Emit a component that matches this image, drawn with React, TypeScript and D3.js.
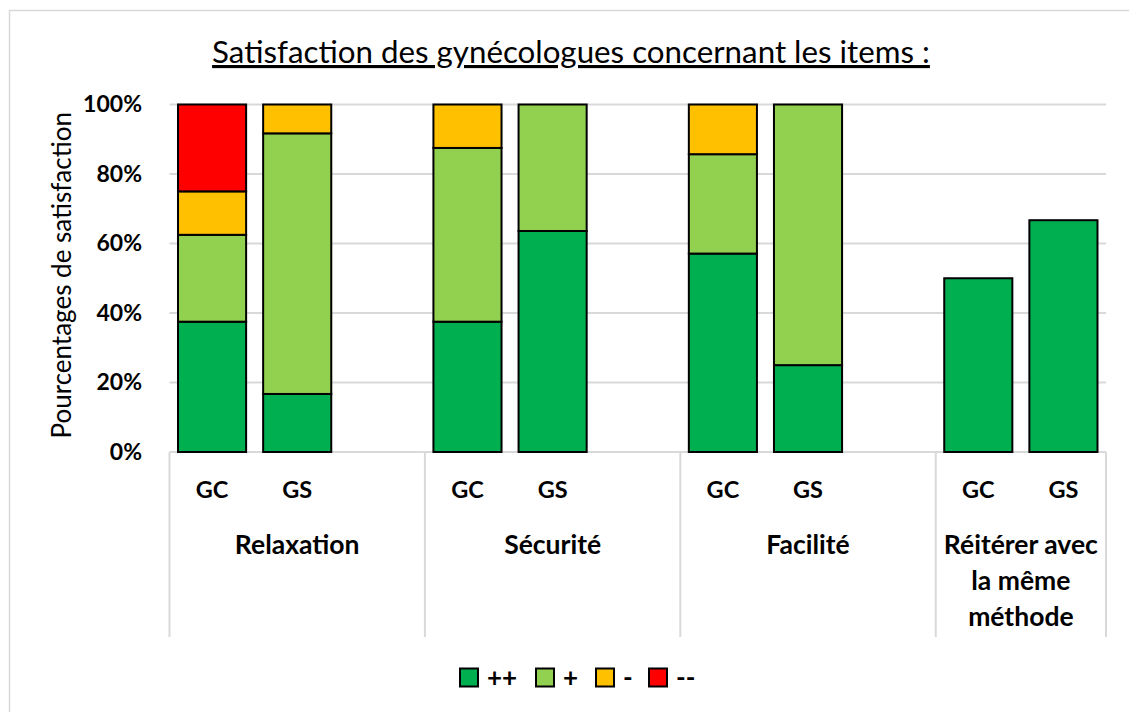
import * as d3 from "d3";

const items = ["Relaxation", "Sécurité", "Facilité", "Réitérer avec la même méthode"];
const itemLines = [["Relaxation"], ["Sécurité"], ["Facilité"], ["Réitérer avec", "la même", "méthode"]];
const groups = ["GC", "GS"];
const levels = ["++", "+", "-", "--"];
const colors = ["#00B050", "#92D050", "#FFC000", "#FF0000"];

// values per bar, order: Relaxation GC, GS, Sécurité GC, GS, Facilité GC, GS, Réitérer GC, GS
const veryGood = [37.5, 16.7, 37.5, 63.6, 57.1, 25, 50, 66.7];
const good = [25, 75, 50, 36.4, 28.6, 75, 0, 0];
const bad = [12.5, 8.3, 12.5, 0, 14.3, 0, 0, 0];
const veryBad = [25, 0, 0, 0, 0, 0, 0, 0];
const yTicks = [0, 20, 40, 60, 80, 100];

const W = 1129;
const H = 712;
const FONT = "Lato, 'Open Sans', sans-serif";

export default function App() {
  const slots: string[] = [];
  items.forEach((it, i) => {
    groups.forEach((g) => slots.push(`${it}|${g}`));
    if (i < items.length - 1) slots.push(`${it}|gap`);
  });

  const x = d3.scaleBand<string>().domain(slots).range([169.5, 1106]).paddingInner(0.2).paddingOuter(0.1);
  const y = d3.scaleLinear().domain([0, 100]).range([452, 104.5]);
  const step = x.step();

  const bars = items.flatMap((it, i) =>
    groups.map((g, j) => {
      const k = i * 2 + j;
      return { key: `${it}|${g}`, group: g, vals: [veryGood[k], good[k], bad[k], veryBad[k]] };
    })
  );
  const stack = d3.stack<any>().keys(["0", "1", "2", "3"]).value((d, key) => d.vals[+key]);
  const series = stack(bars);

  // group cell edges in the category axis
  const sepXs = items.map((it) => (x(`${it}|GC`) as number) - step * 0.1);
  sepXs.push(1106);

  const legendX = [460, 536, 596, 649];

  return (
    <div style={{ position: "fixed", left: 0, top: 0 }}>
      <svg width={W} height={H} style={{ display: "block", background: "#fff" }} fontFamily={FONT}>
        <rect x={9.5} y={10.5} width={W} height={H} fill="#fff" stroke="#d9d9d9" strokeWidth={1.5} />
        <text x={571} y={63} textAnchor="middle" fontSize={31.3} fill="#000" textDecoration="underline">
          Satisfaction des gynécologues concernant les items :
        </text>
        {yTicks.map((t) => (
          <g key={t}>
            <line x1={169.5} x2={1106} y1={y(t)} y2={y(t)} stroke="#d9d9d9" strokeWidth={2} />
            <text x={142} y={y(t) + 7.5} textAnchor="end" fontSize={23} fontWeight="bold">
              {t}%
            </text>
          </g>
        ))}
        <text transform={`translate(71,${y(50) - 3}) rotate(-90)`} textAnchor="middle" fontSize={26}>
          Pourcentages de satisfaction
        </text>
        {series.map((s, si) =>
          s.map((d) =>
            d[1] - d[0] > 0 ? (
              <rect
                key={`${si}-${d.data.key}`}
                x={x(d.data.key)}
                y={y(d[1])}
                width={x.bandwidth()}
                height={y(d[0]) - y(d[1])}
                fill={colors[si]}
                stroke="#000"
                strokeWidth={2}
              />
            ) : null
          )
        )}
        {sepXs.map((sx, i) => (
          <line key={i} x1={sx} x2={sx} y1={452} y2={637} stroke="#d9d9d9" strokeWidth={2} />
        ))}
        {bars.map((b) => (
          <text key={b.key} x={(x(b.key) as number) + x.bandwidth() / 2} y={498} textAnchor="middle" fontSize={23.5} fontWeight="bold">
            {b.group}
          </text>
        ))}
        {items.map((it, i) => {
          const cx = (sepXs[i] + sepXs[i + 1]) / 2;
          return (
            <text key={it} x={cx} textAnchor="middle" fontSize={26.5} fontWeight="bold">
              {itemLines[i].map((ln, li) => (
                <tspan key={li} x={cx} y={554 + li * 36}>
                  {ln}
                </tspan>
              ))}
            </text>
          );
        })}
        {levels.map((lv, i) => (
          <g key={lv}>
            <rect x={legendX[i]} y={668.5} width={18} height={18} fill={colors[i]} stroke="#000" strokeWidth={2} />
            <text x={legendX[i] + 27} y={687} fontSize={26} fontWeight="bold">
              {lv}
            </text>
          </g>
        ))}
      </svg>
    </div>
  );
}
